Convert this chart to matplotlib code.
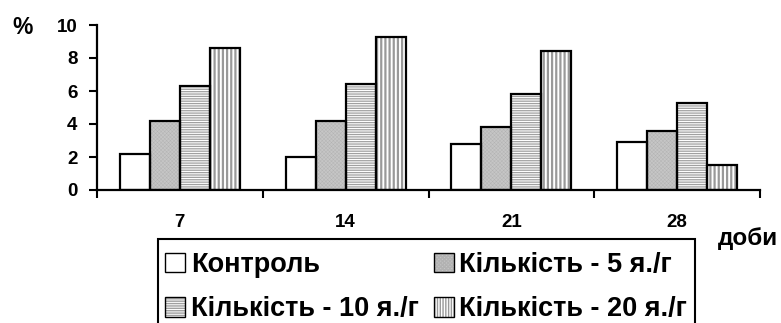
import matplotlib
matplotlib.use("Agg")
import matplotlib.pyplot as plt
import numpy as np
from matplotlib.patches import Rectangle, Patch
from matplotlib.legend_handler import HandlerTuple

categories = ["7", "14", "21", "28"]
series_names = ["Контроль", "Кількість - 5 я./г", "Кількість - 10 я./г", "Кількість - 20 я./г"]
control = [2.2, 2.0, 2.8, 2.9]
q5 = [4.2, 4.2, 3.8, 3.6]
q10 = [6.3, 6.4, 5.8, 5.3]
q20 = [8.6, 9.3, 8.4, 1.5]
yticks = [0, 2, 4, 6, 8, 10]

plt.rcParams['font.family'] = ['Liberation Sans', 'DejaVu Sans']
plt.rcParams['font.weight'] = 'bold'

fig = plt.figure(figsize=(7.81, 3.23), dpi=100)
ax = fig.add_axes([97/781, 1-190/323, (760-97)/781, (190-25)/323])

x = np.arange(len(categories))
w = 0.181
styles = [
    dict(fc='white', hatch=None, hc='black', hlw=1.0, lh=None),
    dict(fc='#c6c6c6', hatch='xxxxxxxxx', hc='#b2b2b2', hlw=0.3, lh='xxxxxxxxx'),
    dict(fc='white', hatch='-------', hc='#a0a0a0', hlw=0.9, lh='-------'),
    dict(fc='white', hatch='||||', hc='#999999', hlw=1.6, lh='||||||'),
]
data = [control, q5, q10, q20]
handles = []
for i, (vals, st) in enumerate(zip(data, styles)):
    pos = x + (i - 1.5) * w
    plt.rcParams['hatch.linewidth'] = st['hlw']
    ax.bar(pos, vals, width=w, facecolor=st['fc'], hatch=st['hatch'],
           edgecolor=st['hc'], linewidth=0, zorder=2)
    ax.bar(pos, vals, width=w, facecolor='none', edgecolor='black',
           linewidth=1.6, zorder=3)
    plt.rcParams['hatch.linewidth'] = min(st['hlw'], 1.0)
    fill = Patch(facecolor=st['fc'], hatch=st['lh'], edgecolor=st['hc'], linewidth=0)
    outline = Patch(facecolor='none', edgecolor='black', linewidth=1.0)
    handles.append((fill, outline))

ax.set_xlim(-0.5, 3.5)
ax.set_ylim(0, 10)
ax.set_yticks(yticks)
ax.set_yticklabels([str(v) for v in yticks], fontsize=13.5, fontweight='bold')
ax.set_xticks(x)
ax.set_xticklabels(categories, fontsize=13.5, fontweight='bold')
ax.set_xticks(np.arange(-0.5, 4.0, 1.0), minor=True)
ax.tick_params(axis='x', which='major', length=0, pad=17)
ax.tick_params(axis='x', which='minor', length=6, width=1.5, direction='out')
ax.tick_params(axis='y', which='major', length=6, width=1.5, direction='out', pad=8)
for s in ['top', 'right']:
    ax.spines[s].set_visible(False)
for s in ['left', 'bottom']:
    ax.spines[s].set_linewidth(1.6)

fig.text(23/781, 1-28/323, "%", fontsize=16.5, fontweight='bold', ha='center', va='center')
fig.text(748/781, 1-238/323, "доби", fontsize=17.5, fontweight='bold', ha='center', va='center')

# legend frame (extends beyond bottom of figure)
fig.patches.append(Rectangle((158/781, -0.2), (695-158)/781, 0.2 + 1-239/323,
                             transform=fig.transFigure, facecolor='none',
                             edgecolor='black', linewidth=1.5, clip_on=False))
order = [0, 2, 1, 3]
leg = fig.legend([handles[k] for k in order], [series_names[k] for k in order],
                 handler_map={tuple: HandlerTuple(ndivide=1)},
                 ncol=2, loc='upper left', bbox_to_anchor=(165/781, 1-252/323),
                 frameon=False, borderpad=0, borderaxespad=0,
                 handlelength=0.75, handleheight=0.75, handletextpad=0.2,
                 labelspacing=0.68, columnspacing=0.55,
                 prop={'weight': 'bold', 'size': 19.5})

fig.savefig("out.png", dpi=100)
